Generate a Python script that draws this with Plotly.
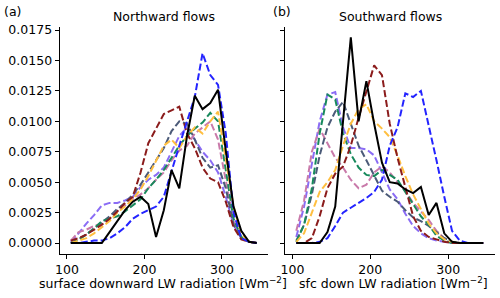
import plotly.graph_objects as go

x_bins = [105, 115, 125, 135, 145, 155, 165, 175, 185, 195, 205, 215, 225,
          235, 245, 255, 265, 275, 285, 295, 305, 315, 325, 335, 345]

# Northward flows (panel a)
north_blue = [0, 0, 0.0001, 0.0002, 0.0002, 0.0004, 0.0008, 0.0013, 0.0020, 0.0024, 0.0027, 0.0030, 0.0038,
              0.0060, 0.0080, 0.0100, 0.0120, 0.0156, 0.0138, 0.0130, 0.0090, 0.0025, 0.0004, 0.0001, 0]
north_darkred = [0.0002, 0.0004, 0.0007, 0.0011, 0.0015, 0.0020, 0.0026, 0.0033, 0.0038, 0.0058, 0.0082, 0.0094, 0.0106,
                 0.0109, 0.0112, 0.0090, 0.0078, 0.0062, 0.0053, 0.0050, 0.0034, 0.0013, 0.0003, 0.0001, 0]
north_green = [0, 0.0003, 0.0007, 0.0012, 0.0018, 0.0020, 0.0022, 0.0026, 0.0031, 0.0036, 0.0045, 0.0052, 0.0060,
               0.0070, 0.0080, 0.0088, 0.0094, 0.0099, 0.0107, 0.0100, 0.0060, 0.0020, 0.0005, 0.0001, 0]
north_yellow = [0, 0.0002, 0.0004, 0.0008, 0.0013, 0.0018, 0.0025, 0.0030, 0.0036, 0.0044, 0.0055, 0.0068, 0.0080,
                0.0085, 0.0078, 0.0088, 0.0095, 0.0090, 0.0100, 0.0108, 0.0070, 0.0030, 0.0008, 0.0001, 0]
north_slate = [0, 0.0003, 0.0007, 0.0012, 0.0017, 0.0022, 0.0028, 0.0033, 0.0040, 0.0048, 0.0058, 0.0068, 0.0078,
               0.0092, 0.0100, 0.0098, 0.0085, 0.0070, 0.0062, 0.0064, 0.0045, 0.0015, 0.0004, 0.0001, 0]
north_purple = [0.0001, 0.0008, 0.0016, 0.0023, 0.0031, 0.0033, 0.0033, 0.0035, 0.0038, 0.0046, 0.0052, 0.0056, 0.0062,
                0.0075, 0.0088, 0.0095, 0.0085, 0.0075, 0.0068, 0.0058, 0.0038, 0.0015, 0.0004, 0.0001, 0]
north_pink = [0.0002, 0.0009, 0.0011, 0.0014, 0.0016, 0.0020, 0.0026, 0.0031, 0.0036, 0.0040, 0.0045, 0.0052, 0.0058,
              0.0068, 0.0076, 0.0080, 0.0090, 0.0095, 0.0100, 0.0085, 0.0050, 0.0018, 0.0004, 0.0001, 0]
north_black = [0, 0, 0, 0, 0, 0.0009, 0.0018, 0.0027, 0.0034, 0.0038, 0.0032, 0.0005, 0.0027,
               0.0060, 0.0045, 0.0088, 0.0121, 0.0110, 0.0115, 0.0126, 0.0076, 0.0030, 0.0010, 0.0001, 0]

# Southward flows (panel b)
south_blue = [0, 0, 0, 0.0001, 0.0004, 0.0014, 0.0025, 0.0029, 0.0033, 0.0037, 0.0042, 0.0052, 0.0080,
              0.0095, 0.0123, 0.0120, 0.0125, 0.0097, 0.0068, 0.0038, 0.0010, 0.0002, 0, 0, 0]
south_darkred = [0, 0, 0.0004, 0.0022, 0.0045, 0.0057, 0.0063, 0.0080, 0.0103, 0.0125, 0.0146, 0.0138, 0.0098,
                 0.0070, 0.0045, 0.0022, 0.0010, 0.0005, 0.0003, 0.0001, 0, 0, 0, 0, 0]
south_green = [0.0001, 0.0015, 0.0045, 0.0090, 0.0122, 0.0118, 0.0090, 0.0073, 0.0062, 0.0056, 0.0055, 0.0060, 0.0056,
               0.0052, 0.0042, 0.0032, 0.0022, 0.0015, 0.0006, 0.0002, 0, 0, 0, 0, 0]
south_yellow = [0.0001, 0.0008, 0.0025, 0.0042, 0.0050, 0.0060, 0.0080, 0.0098, 0.0110, 0.0114, 0.0100, 0.0094, 0.0087,
                0.0072, 0.0055, 0.0040, 0.0028, 0.0016, 0.0008, 0.0003, 0.0001, 0, 0, 0, 0]
south_slate = [0.0002, 0.0015, 0.0040, 0.0072, 0.0095, 0.0108, 0.0116, 0.0098, 0.0080, 0.0068, 0.0055, 0.0043, 0.0038,
               0.0034, 0.0027, 0.0021, 0.0018, 0.0014, 0.0009, 0.0004, 0.0001, 0, 0, 0, 0]
south_purple = [0.0005, 0.0030, 0.0065, 0.0100, 0.0122, 0.0124, 0.0095, 0.0078, 0.0078, 0.0077, 0.0072, 0.0058, 0.0044,
                0.0036, 0.0024, 0.0014, 0.0008, 0.0004, 0.0002, 0.0001, 0, 0, 0, 0, 0]
south_pink = [0.0010, 0.0035, 0.0075, 0.0094, 0.0082, 0.0070, 0.0062, 0.0052, 0.0045, 0.0048, 0.0058, 0.0063, 0.0058,
              0.0050, 0.0043, 0.0033, 0.0026, 0.0019, 0.0010, 0.0004, 0.0001, 0, 0, 0, 0]
south_black = [0, 0, 0, 0, 0.0009, 0.0030, 0.0100, 0.0169, 0.0100, 0.0133, 0.0098, 0.0066, 0.0050,
               0.0049, 0.0044, 0.0041, 0.0046, 0.0023, 0.0033, 0.0008, 0.0001, 0, 0, 0, 0]

y_ticks = [0, 0.0025, 0.005, 0.0075, 0.01, 0.0125, 0.015, 0.0175]
x_ticks = [100, 200, 300]

colors = {
    "blue": "#2424ff",
    "darkred": "#8b1c1c",
    "green": "#188a5c",
    "yellow": "#ffbf40",
    "slate": "#4b5a78",
    "purple": "#8a6cf5",
    "pink": "#c97aaa",
    "black": "#000000",
}

north = [("purple", north_purple), ("pink", north_pink), ("slate", north_slate), ("green", north_green),
         ("yellow", north_yellow), ("darkred", north_darkred), ("blue", north_blue), ("black", north_black)]
south = [("purple", south_purple), ("pink", south_pink), ("slate", south_slate), ("green", south_green),
         ("yellow", south_yellow), ("darkred", south_darkred), ("blue", south_blue), ("black", south_black)]

fig = go.Figure()
for (series, xa, ya) in [(north, "x", "y"), (south, "x2", "y2")]:
    for name, vals in series:
        dash = "solid" if name == "black" else "7px,3px"
        fig.add_trace(go.Scatter(x=x_bins, y=vals, mode="lines", xaxis=xa, yaxis=ya,
                                 line=dict(color=colors[name], width=2, dash=dash),
                                 showlegend=False, hoverinfo="skip"))

font = dict(family="DejaVu Sans", size=12.5, color="black")
xr = [90.5, 359.5]
yr = [-0.0009, 0.01775]
axis_common = dict(showgrid=False, zeroline=False, showline=True, linecolor="black", linewidth=1,
                   ticks="outside", ticklen=4, tickcolor="black", tickfont=font, mirror=False,
                   automargin=False)

fig.update_layout(
    width=500, height=298, margin=dict(l=0, r=0, t=0, b=0, autoexpand=False),
    paper_bgcolor="white", plot_bgcolor="white",
    xaxis=dict(domain=[59.6 / 500, 268 / 500], range=xr, tickvals=x_ticks, anchor="y", **axis_common),
    yaxis=dict(domain=[1 - 254 / 298, 1 - 27 / 298], range=yr, tickvals=y_ticks, tickformat=".4f",
               anchor="x", **axis_common),
    xaxis2=dict(domain=[285 / 500, 494.5 / 500], range=xr, tickvals=x_ticks, anchor="y2", **axis_common),
    yaxis2=dict(domain=[1 - 254 / 298, 1 - 27 / 298], range=yr, tickvals=y_ticks, showticklabels=False,
                anchor="x2", **axis_common),
)

ann = [
    dict(text="(a)", x=2 / 500, y=1 - 12 / 298, xanchor="left"),
    dict(text="(b)", x=271 / 500, y=1 - 12 / 298, xanchor="left"),
    dict(text="Northward flows", x=164 / 500, y=1 - 17 / 298, xanchor="center"),
    dict(text="Southward flows", x=390 / 500, y=1 - 17 / 298, xanchor="center"),
    dict(text="surface downward LW radiation [Wm<sup>−2</sup>]", x=162.5 / 500, y=1 - 283 / 298, xanchor="center"),
    dict(text="sfc down LW radiation [Wm<sup>−2</sup>]", x=393 / 500, y=1 - 283 / 298, xanchor="center"),
]
for a in ann:
    fig.add_annotation(xref="paper", yref="paper", showarrow=False, yanchor="middle", font=font, **a)

fig.write_html("out.html", config={"displayModeBar": False},
               post_script="document.body.style.margin='0';document.body.style.overflow='hidden';")
